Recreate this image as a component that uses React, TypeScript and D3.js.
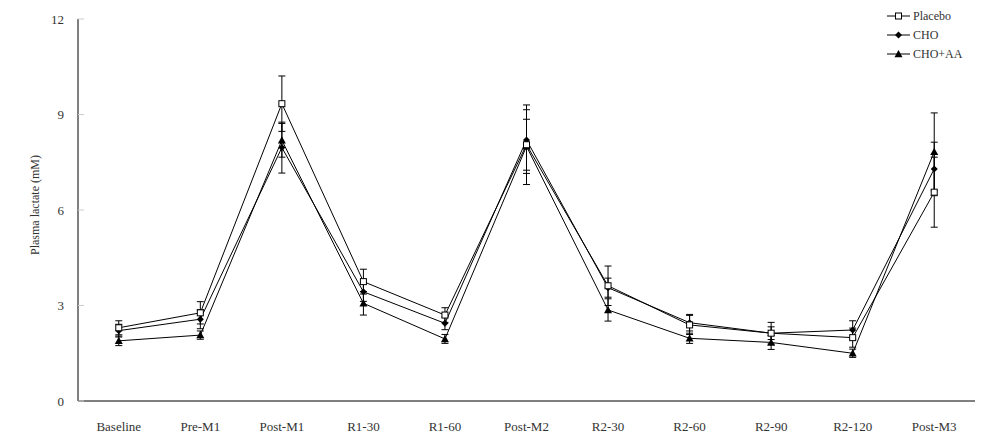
import * as d3 from 'd3'

const categories = ['Baseline', 'Pre-M1', 'Post-M1', 'R1-30', 'R1-60', 'Post-M2', 'R2-30', 'R2-60', 'R2-90', 'R2-120', 'Post-M3']
const yTicks = [0, 3, 6, 9, 12]

const placebo = [2.3, 2.77, 9.34, 3.75, 2.7, 8.05, 3.62, 2.39, 2.13, 1.99, 6.56]
const placeboErr = [0.22, 0.35, 0.87, 0.39, 0.23, 1.25, 0.62, 0.3, 0.34, 0.3, 1.1]
const cho = [2.21, 2.57, 7.96, 3.43, 2.44, 8.2, 3.56, 2.46, 2.13, 2.23, 7.29]
const choErr = [0.2, 0.3, 0.8, 0.3, 0.2, 0.95, 0.3, 0.26, 0.2, 0.29, 0.84]
const choAA = [1.89, 2.07, 8.19, 3.07, 1.95, 8.0, 2.86, 1.97, 1.84, 1.5, 7.83]
const choAAErr = [0.15, 0.13, 0.53, 0.37, 0.14, 0.85, 0.35, 0.16, 0.22, 0.13, 1.22]

const series = [
  { name: 'Placebo', values: placebo, err: placeboErr, marker: 'square' },
  { name: 'CHO', values: cho, err: choErr, marker: 'diamond' },
  { name: 'CHO+AA', values: choAA, err: choAAErr, marker: 'triangle' },
]

const W = 1004
const H = 443
const left = 78
const right = 975
const top = 19
const bottom = 401
const font = '"Liberation Serif", "Times New Roman", serif'

const x = d3.scalePoint<string>().domain(categories).range([left, right]).padding(0.5)
const y = d3.scaleLinear().domain([0, 12]).range([bottom, top])

function Marker({ type, cx, cy }: { type: string; cx: number; cy: number }) {
  if (type === 'square') {
    return <rect x={cx - 3} y={cy - 3} width={6} height={6} fill="#fff" stroke="#000" strokeWidth={1} />
  }
  if (type === 'diamond') {
    const s = 3.5
    return <path d={`M${cx},${cy - s}L${cx + s},${cy}L${cx},${cy + s}L${cx - s},${cy}Z`} fill="#000" />
  }
  const s = 4
  return <path d={`M${cx},${cy - s}L${cx + s},${cy + s * 0.8}L${cx - s},${cy + s * 0.8}Z`} fill="#000" />
}

export default function App() {
  const line = d3.line<number>()
    .x((_, i) => x(categories[i]) as number)
    .y(d => y(d))

  return (
    <svg width={W} height={H} style={{ position: 'absolute', left: 0, top: 0, background: '#fff' }} fontFamily={font}>
      {/* axes */}
      <line x1={left} x2={left} y1={top} y2={bottom} stroke="#000" />
      <line x1={left} x2={right} y1={bottom} y2={bottom} stroke="#000" />
      {yTicks.map(t => (
        <g key={t}>
          <line x1={left} x2={left + 6} y1={y(t)} y2={y(t)} stroke="#ccc" />
          <text x={64} y={y(t)} dy="0.35em" textAnchor="end" fontSize={13} fill="#333">{t}</text>
        </g>
      ))}
      {categories.map(c => (
        <text key={c} x={x(c)} y={431} textAnchor="middle" fontSize={13} fill="#333">{c}</text>
      ))}
      <text transform={`translate(39,${(top + bottom) / 2 - 5}) rotate(-90)`} textAnchor="middle" fontSize={12} fill="#333">
        Plasma lactate (mM)
      </text>

      {/* error bars */}
      {series.map(s => (
        <g key={s.name + '-err'} stroke="#000" strokeWidth={1}>
          {s.values.map((v, i) => {
            const cx = x(categories[i]) as number
            const y1 = y(v + s.err[i])
            const y2 = y(v - s.err[i])
            return (
              <g key={i}>
                <line x1={cx} x2={cx} y1={y1} y2={y2} />
                <line x1={cx - 3.5} x2={cx + 3.5} y1={y1} y2={y1} />
                <line x1={cx - 3.5} x2={cx + 3.5} y1={y2} y2={y2} />
              </g>
            )
          })}
        </g>
      ))}

      {/* lines */}
      {series.map(s => (
        <path key={s.name} d={line(s.values) ?? ''} fill="none" stroke="#000" strokeWidth={1} />
      ))}

      {/* markers */}
      {[...series].reverse().map(s => (
        <g key={s.name + '-m'}>
          {s.values.map((v, i) => (
            <Marker key={i} type={s.marker} cx={x(categories[i]) as number} cy={y(v)} />
          ))}
        </g>
      ))}

      {/* legend */}
      {series.map((s, i) => {
        const ly = 16 + i * 19
        return (
          <g key={s.name + '-leg'}>
            <line x1={887} x2={910} y1={ly} y2={ly} stroke="#000" />
            <Marker type={s.marker} cx={898.5} cy={ly} />
            <text x={913} y={ly} dy="0.35em" fontSize={12} fill="#333">{s.name}</text>
          </g>
        )
      })}
    </svg>
  )
}
